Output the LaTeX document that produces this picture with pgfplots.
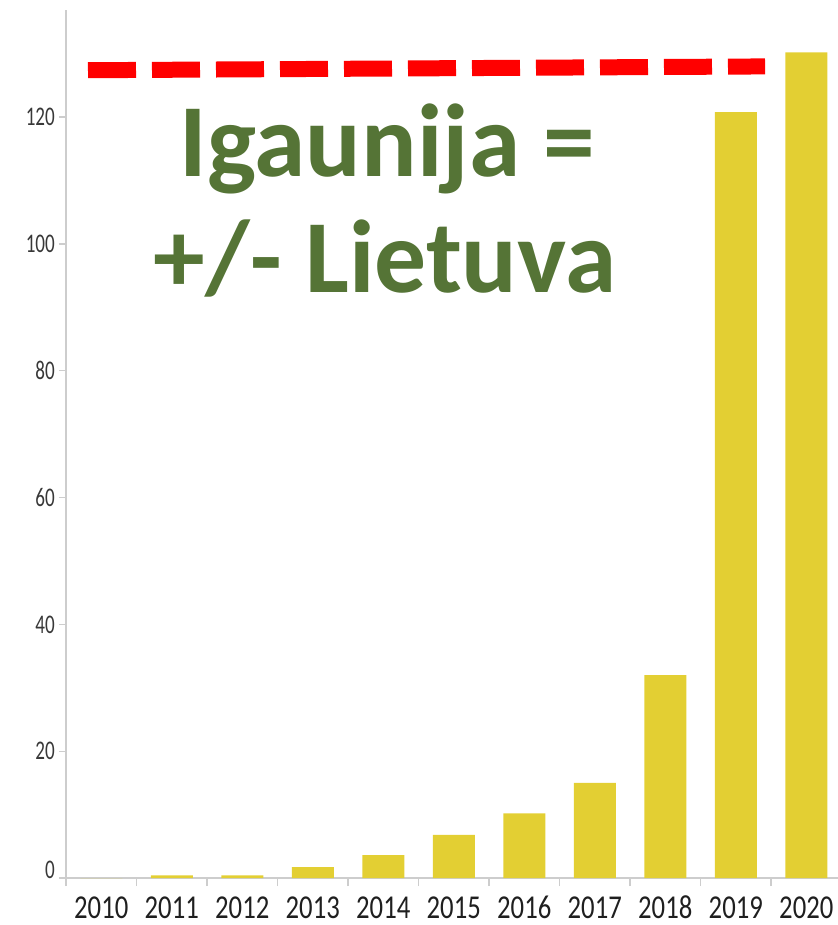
\documentclass[border=0pt]{standalone}
\usepackage{fontspec}
\setmainfont{Carlito}
\newfontfamily\xtickfont[FakeStretch=0.8]{Carlito}
\newfontfamily\ytickfont[FakeStretch=0.71]{Carlito}
\usepackage{pgfplots}
\pgfplotsset{compat=1.18}
\definecolor{baryellow}{RGB}{227,207,51}
\definecolor{txtgreen}{RGB}{85,116,54}
\definecolor{axgray}{RGB}{205,205,205}
\begin{document}
\begin{tikzpicture}
\useasboundingbox (0,0) rectangle (838bp,925bp);
\begin{axis}[
  at={(66bp,47bp)}, anchor=south west,
  scale only axis, width=772bp, height=868bp,
  xmin=-0.5, xmax=10.45, ymin=0, ymax=136.9,
  axis lines*=left,
  axis line style={axgray, line width=1.3bp, -},
  xtick={0,1,2,3,4,5,6,7,8,9,10},
  xticklabels={2010,2011,2012,2013,2014,2015,2016,2017,2018,2019,2020},
  minor xtick={-0.5,0.5,1.5,2.5,3.5,4.5,5.5,6.5,7.5,8.5,9.5},
  ytick={20,40,60,80,100,120},
  extra y ticks={0},
  extra y tick style={yticklabel style={yshift=8bp}},
  tick align=outside,
  major tick length=7bp,
  minor tick length=8bp,
  major x tick style={draw=none},
  tick style={axgray, line width=1.3bp},
  xticklabel style={font=\xtickfont\fontsize{33.5}{38}\selectfont, text=black!88, inner sep=0pt, anchor=base, yshift=-33bp},
  yticklabel style={font=\ytickfont\fontsize{27}{30}\selectfont, text=black!78, inner sep=0pt, xshift=-4bp},
  /pgf/number format/assume math mode=true,
  clip=false,
]
\addplot[ybar, bar width=42bp, fill=baryellow, draw=none] coordinates {
  (0,0) (1,0.4) (2,0.4) (3,1.7) (4,3.6) (5,6.8) (6,10.2) (7,15.0) (8,32.0) (9,120.8) (10,130.2)
};
\addplot[red, line width=16bp, dash pattern=on 48bp off 16bp] coordinates {
  (-0.188,127.4) (9.415,128.0)
};
\end{axis}
\node[anchor=base, text=txtgreen, font=\fontsize{104}{116}\selectfont\bfseries, inner sep=0pt] at (387.5bp,748bp) {Igaunija =};
\node[anchor=base, text=txtgreen, font=\fontsize{104}{116}\selectfont\bfseries, inner sep=0pt] at (385bp,632bp) {+/- Lietuva};
\end{tikzpicture}
\end{document}
